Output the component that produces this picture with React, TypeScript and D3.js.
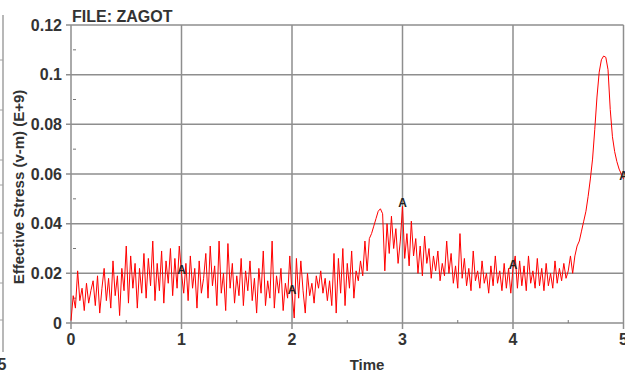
import * as d3 from "d3";
import React, { useRef, useEffect } from "react";

// chart texts
const chartTitle = "FILE: ZAGOT";
const xLabel = "Time";
const yLabel = "Effective Stress (v-m) (E+9)";

// axis ticks
const xTicks = [0, 1, 2, 3, 4, 5];
const xTickLabels = ["0", "1", "2", "3", "4", "5"];
const yTicks = [0, 0.02, 0.04, 0.06, 0.08, 0.1, 0.12];
const yTickLabels = ["0", "0.02", "0.04", "0.06", "0.08", "0.1", "0.12"];

// stress, one sample every 0.02 time units (t = 0 .. 5)
const sampleStep = 0.02;
const stress = [
  0.001, 0.011, 0.006, 0.021, 0.009, 0.014, 0.005, 0.016, 0.008, 0.013, // 0.0
  0.017, 0.007, 0.019, 0.004, 0.014, 0.022, 0.009, 0.018, 0.006, 0.025, // 0.2
  0.011, 0.019, 0.003, 0.022, 0.013, 0.031, 0.008, 0.027, 0.014, 0.024, // 0.4
  0.006, 0.022, 0.012, 0.028, 0.010, 0.026, 0.015, 0.033, 0.009, 0.024, // 0.6
  0.013, 0.029, 0.008, 0.025, 0.016, 0.030, 0.011, 0.026, 0.014, 0.031, // 0.8
  0.020, 0.012, 0.024, 0.009, 0.027, 0.014, 0.022, 0.006, 0.025, 0.012, // 1.0
  0.018, 0.028, 0.010, 0.031, 0.015, 0.023, 0.007, 0.033, 0.012, 0.020, // 1.2
  0.005, 0.032, 0.014, 0.024, 0.008, 0.019, 0.011, 0.026, 0.007, 0.021, // 1.4
  0.013, 0.025, 0.009, 0.018, 0.004, 0.022, 0.012, 0.029, 0.007, 0.017, // 1.6
  0.010, 0.033, 0.006, 0.019, 0.012, 0.022, 0.005, 0.016, 0.010, 0.027, // 1.8
  0.012, 0.002, 0.026, 0.010, 0.025, 0.013, 0.004, 0.020, 0.011, 0.016, // 2.0
  0.008, 0.019, 0.014, 0.021, 0.012, 0.018, 0.009, 0.017, 0.007, 0.028, // 2.2
  0.004, 0.026, 0.012, 0.030, 0.007, 0.024, 0.014, 0.029, 0.010, 0.021, // 2.4
  0.017, 0.025, 0.019, 0.033, 0.021, 0.034, 0.036, 0.039, 0.042, 0.045, // 2.6
  0.046, 0.044, 0.021, 0.040, 0.028, 0.043, 0.030, 0.038, 0.024, 0.033, // 2.8
  0.047, 0.026, 0.036, 0.023, 0.041, 0.027, 0.034, 0.020, 0.031, 0.019, // 3.0
  0.035, 0.024, 0.030, 0.018, 0.027, 0.021, 0.029, 0.017, 0.024, 0.019, // 3.2
  0.033, 0.020, 0.028, 0.016, 0.023, 0.014, 0.036, 0.018, 0.026, 0.015, // 3.4
  0.022, 0.013, 0.029, 0.017, 0.021, 0.014, 0.025, 0.016, 0.020, 0.012, // 3.6
  0.023, 0.015, 0.027, 0.016, 0.021, 0.013, 0.024, 0.014, 0.022, 0.012, // 3.8
  0.022, 0.027, 0.014, 0.025, 0.015, 0.023, 0.013, 0.027, 0.016, 0.021, // 4.0
  0.014, 0.026, 0.015, 0.022, 0.013, 0.024, 0.015, 0.020, 0.014, 0.025, // 4.2
  0.016, 0.022, 0.017, 0.024, 0.018, 0.021, 0.027, 0.020, 0.027, 0.031, // 4.4
  0.033, 0.037, 0.041, 0.045, 0.051, 0.058, 0.066, 0.078, 0.091, 0.101, // 4.6
  0.106, 0.1075, 0.107, 0.102, 0.086, 0.075, 0.069, 0.065, 0.062, 0.060, // 4.8
  0.058, // 5.0
];

// "A" markers on the curve
const markerTimes = [1, 2, 3, 4, 5];
const markerStress = [0.02, 0.012, 0.047, 0.022, 0.058];

const FONT = "'Liberation Sans', Arial, sans-serif";

const StressChart = () => {
  const svgRef = useRef<SVGSVGElement>(null);
  const w = 625;
  const h = 372;

  useEffect(() => {
    const svg = d3.select(svgRef.current);
    svg.selectAll("*").remove();

    const xScale = d3.scaleLinear().domain([0, 5]).range([71, 623.5]);
    const yScale = d3.scaleLinear().domain([0, 0.12]).range([323, 25]);
    const gridColor = "#8e8e8e";

    // cut-off neighbour chart at the left edge
    const left = svg.append("g");
    left.append("line")
      .attr("x1", 3).attr("x2", 3).attr("y1", 15).attr("y2", 352)
      .attr("stroke", "#a0a0a0").attr("stroke-width", 1.5);
    [60, 110, 160, 185, 233, 283, 320].forEach((yy) => {
      left.append("line")
        .attr("x1", 0).attr("x2", 3).attr("y1", yy).attr("y2", yy)
        .attr("stroke", "#a0a0a0").attr("stroke-width", 1);
    });
    left.append("text")
      .attr("x", 2).attr("y", 370)
      .attr("text-anchor", "middle")
      .attr("font-family", FONT).attr("font-weight", "bold").attr("font-size", 16)
      .attr("fill", "#333")
      .text("5");

    // grid + major ticks
    const grid = svg.append("g");
    grid.selectAll("line.h")
      .data(yTicks)
      .enter()
      .append("line")
      .attr("x1", xScale(0) - 5)
      .attr("x2", xScale(5))
      .attr("y1", (d) => yScale(d))
      .attr("y2", (d) => yScale(d))
      .attr("stroke", gridColor)
      .attr("stroke-width", 1.5);
    grid.selectAll("line.v")
      .data(xTicks)
      .enter()
      .append("line")
      .attr("x1", (d) => xScale(d))
      .attr("x2", (d) => xScale(d))
      .attr("y1", yScale(0.12))
      .attr("y2", yScale(0) + 6)
      .attr("stroke", gridColor)
      .attr("stroke-width", 1.5);

    // minor ticks
    const xMinor = d3.range(0.5, 5, 1);
    const yMinor = d3.range(0.01, 0.12, 0.02);
    grid.selectAll("line.xm")
      .data(xMinor)
      .enter()
      .append("line")
      .attr("x1", (d) => xScale(d))
      .attr("x2", (d) => xScale(d))
      .attr("y1", yScale(0))
      .attr("y2", yScale(0) - 3)
      .attr("stroke", "#777")
      .attr("stroke-width", 1);
    grid.selectAll("line.ym")
      .data(yMinor)
      .enter()
      .append("line")
      .attr("x1", xScale(0) + 2)
      .attr("x2", xScale(0) + 5)
      .attr("y1", (d) => yScale(d))
      .attr("y2", (d) => yScale(d))
      .attr("stroke", "#777")
      .attr("stroke-width", 1);

    // tick labels
    svg.selectAll("text.ytick")
      .data(yTicks)
      .enter()
      .append("text")
      .attr("x", xScale(0) - 9)
      .attr("y", (d) => yScale(d))
      .attr("dy", "0.36em")
      .attr("text-anchor", "end")
      .attr("font-family", FONT).attr("font-weight", "bold").attr("font-size", 16)
      .attr("fill", "#333")
      .text((d, i) => yTickLabels[i]);
    svg.selectAll("text.xtick")
      .data(xTicks)
      .enter()
      .append("text")
      .attr("x", (d) => xScale(d))
      .attr("y", 345)
      .attr("text-anchor", "middle")
      .attr("font-family", FONT).attr("font-weight", "bold").attr("font-size", 16)
      .attr("fill", "#333")
      .text((d, i) => xTickLabels[i]);

    // series
    const line = d3.line<number>()
      .x((d, i) => xScale(i * sampleStep))
      .y((d) => yScale(d));
    svg.append("path")
      .datum(stress)
      .attr("d", line)
      .attr("fill", "none")
      .attr("stroke", "#ff0000")
      .attr("stroke-width", 1)
      .attr("stroke-linejoin", "round");

    // markers
    svg.selectAll("text.marker")
      .data(markerTimes)
      .enter()
      .append("text")
      .attr("x", (d) => xScale(d))
      .attr("y", (d, i) => yScale(markerStress[i]) + 1)
      .attr("text-anchor", "middle")
      .attr("font-family", FONT).attr("font-weight", "bold").attr("font-size", 12)
      .attr("fill", "#222")
      .text("A");

    // title and axis labels
    svg.append("text")
      .attr("x", 72).attr("y", 22)
      .attr("font-family", FONT).attr("font-weight", "bold").attr("font-size", 16)
      .attr("fill", "#333")
      .text(chartTitle);
    svg.append("text")
      .attr("x", 367).attr("y", 370)
      .attr("text-anchor", "middle")
      .attr("font-family", FONT).attr("font-weight", "bold").attr("font-size", 15)
      .attr("fill", "#333")
      .text(xLabel);
    svg.append("text")
      .attr("transform", "translate(24,187) rotate(-90)")
      .attr("text-anchor", "middle")
      .attr("font-family", FONT).attr("font-weight", "bold").attr("font-size", 15)
      .attr("fill", "#333")
      .text(yLabel);
  }, []);

  return (
    <svg
      ref={svgRef}
      width={w}
      height={h}
      style={{ position: "absolute", left: 0, top: 0, background: "#fff" }}
    />
  );
};

export default function App() {
  return <StressChart />;
}
